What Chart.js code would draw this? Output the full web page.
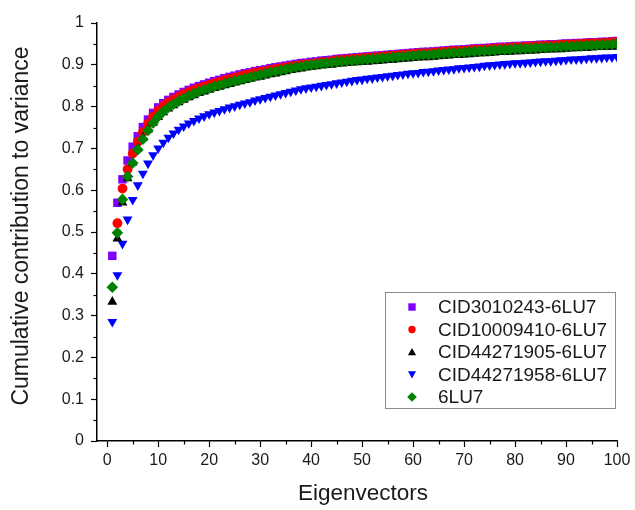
<!DOCTYPE html>
<html>
<head>
<meta charset="utf-8">
<script src="https://cdn.jsdelivr.net/npm/chart.js@4/dist/chart.umd.min.js"></script>
<style>
html,body{margin:0;padding:0;background:#ffffff;}
#wrap{width:635px;height:510px;}
</style>
</head>
<body>
<div id="wrap"><canvas id="c" width="635" height="510"></canvas></div>
<script>
// ---------- DATA ----------
const eigenvectors = [1,2,3,4,5,6,7,8,9,10,11,12,13,14,15,16,17,18,19,20,
  21,22,23,24,25,26,27,28,29,30,31,32,33,34,35,36,37,38,39,40,
  41,42,43,44,45,46,47,48,49,50,51,52,53,54,55,56,57,58,59,60,
  61,62,63,64,65,66,67,68,69,70,71,72,73,74,75,76,77,78,79,80,
  81,82,83,84,85,86,87,88,89,90,91,92,93,94,95,96,97,98,99,100];

const seriesNames = ['CID3010243-6LU7','CID10009410-6LU7','CID44271905-6LU7','CID44271958-6LU7','6LU7'];
const xTitle = 'Eigenvectors';
const yTitle = 'Cumulative contribution to variance';

const cid3010243 = [0.443,0.570,0.626,0.671,0.704,0.729,0.751,0.769,0.785,0.798,
  0.808,0.816,0.823,0.829,0.835,0.840,0.845,0.849,0.853,0.857,
  0.861,0.864,0.868,0.871,0.874,0.877,0.880,0.882,0.885,0.887,
  0.889,0.892,0.894,0.896,0.898,0.900,0.902,0.904,0.905,0.907,
  0.908,0.910,0.911,0.912,0.914,0.915,0.916,0.917,0.918,0.919,
  0.920,0.921,0.922,0.923,0.924,0.925,0.926,0.927,0.928,0.929,
  0.930,0.931,0.931,0.932,0.933,0.934,0.935,0.936,0.936,0.937,
  0.938,0.939,0.940,0.940,0.941,0.942,0.943,0.943,0.944,0.945,
  0.945,0.946,0.946,0.947,0.948,0.948,0.949,0.949,0.950,0.951,
  0.951,0.952,0.952,0.953,0.954,0.954,0.955,0.955,0.956,0.957];

// first point of this series is hidden in the picture
const cid10009410 = [null,0.521,0.604,0.650,0.688,0.716,0.739,0.759,0.776,0.790,
  0.801,0.810,0.817,0.823,0.830,0.835,0.840,0.844,0.848,0.852,
  0.856,0.859,0.863,0.866,0.869,0.872,0.876,0.878,0.881,0.883,
  0.885,0.888,0.890,0.892,0.894,0.896,0.898,0.900,0.901,0.903,
  0.904,0.906,0.907,0.909,0.911,0.912,0.913,0.914,0.915,0.916,
  0.917,0.918,0.919,0.920,0.921,0.922,0.923,0.924,0.925,0.926,
  0.927,0.928,0.928,0.929,0.930,0.931,0.932,0.933,0.933,0.934,
  0.935,0.936,0.937,0.937,0.938,0.939,0.940,0.940,0.941,0.942,
  0.942,0.943,0.944,0.944,0.945,0.946,0.946,0.947,0.948,0.948,
  0.949,0.949,0.950,0.951,0.951,0.952,0.952,0.953,0.954,0.954];

const cid44271905 = [0.333,0.484,0.570,0.628,0.666,0.700,0.725,0.745,0.761,0.775,
  0.786,0.795,0.803,0.810,0.816,0.822,0.827,0.832,0.836,0.840,
  0.844,0.847,0.851,0.854,0.857,0.860,0.863,0.866,0.869,0.871,
  0.874,0.877,0.879,0.882,0.884,0.887,0.889,0.891,0.893,0.895,
  0.896,0.898,0.899,0.900,0.902,0.903,0.904,0.905,0.906,0.907,
  0.907,0.908,0.909,0.910,0.911,0.912,0.913,0.914,0.915,0.916,
  0.917,0.918,0.918,0.919,0.920,0.921,0.922,0.923,0.923,0.924,
  0.925,0.926,0.927,0.927,0.928,0.929,0.930,0.930,0.931,0.932,
  0.932,0.933,0.934,0.934,0.935,0.936,0.936,0.937,0.937,0.938,
  0.939,0.939,0.940,0.940,0.941,0.942,0.942,0.943,0.943,0.944];

const cid44271958 = [0.285,0.397,0.472,0.530,0.577,0.612,0.640,0.664,0.684,0.700,
  0.714,0.726,0.736,0.745,0.753,0.760,0.766,0.772,0.777,0.782,
  0.786,0.790,0.794,0.798,0.801,0.805,0.808,0.811,0.815,0.818,
  0.821,0.824,0.827,0.830,0.833,0.836,0.839,0.842,0.844,0.846,
  0.848,0.850,0.852,0.854,0.856,0.858,0.860,0.862,0.864,0.865,
  0.867,0.868,0.870,0.871,0.873,0.874,0.876,0.877,0.879,0.880,
  0.881,0.883,0.884,0.885,0.887,0.888,0.889,0.890,0.892,0.893,
  0.894,0.895,0.896,0.898,0.899,0.900,0.901,0.902,0.903,0.904,
  0.904,0.905,0.906,0.907,0.908,0.909,0.909,0.910,0.911,0.912,
  0.913,0.913,0.914,0.915,0.916,0.916,0.917,0.918,0.918,0.919];

const lu7 = [0.368,0.498,0.578,0.633,0.665,0.697,0.722,0.743,0.761,0.776,
  0.788,0.798,0.806,0.813,0.820,0.826,0.831,0.836,0.840,0.844,
  0.848,0.851,0.855,0.858,0.861,0.864,0.867,0.870,0.873,0.876,
  0.879,0.882,0.884,0.887,0.889,0.892,0.894,0.896,0.898,0.900,
  0.901,0.903,0.904,0.905,0.907,0.908,0.909,0.910,0.911,0.912,
  0.913,0.914,0.915,0.916,0.917,0.918,0.919,0.920,0.921,0.922,
  0.923,0.924,0.924,0.925,0.926,0.927,0.928,0.929,0.929,0.930,
  0.931,0.932,0.933,0.933,0.934,0.935,0.936,0.936,0.937,0.938,
  0.938,0.939,0.939,0.940,0.941,0.941,0.942,0.942,0.943,0.944,
  0.944,0.945,0.945,0.946,0.947,0.947,0.948,0.948,0.949,0.950];

const xTickValues = [0,10,20,30,40,50,60,70,80,90,100];
const xTickLabels = ['0','10','20','30','40','50','60','70','80','90','100'];
const xMinorTicks = [5,15,25,35,45,55,65,75,85,95];
const yTickValues = [0,0.1,0.2,0.3,0.4,0.5,0.6,0.7,0.8,0.9,1];
const yTickLabels = ['0','0.1','0.2','0.3','0.4','0.5','0.6','0.7','0.8','0.9','1'];
const yMinorTicks = [0.05,0.15,0.25,0.35,0.45,0.55,0.65,0.75,0.85,0.95];

// ---------- STYLE ----------
const FONT = '"Liberation Sans", Arial, Helvetica, sans-serif';
const seriesValues = [cid3010243, cid10009410, cid44271905, cid44271958, lu7];
const seriesStyles = [
  {color:'#8000ff', shape:'rect',     radius:6.0, rotation:0,   order:3},
  {color:'#ff0000', shape:'circle',   radius:4.9, rotation:0,   order:2},
  {color:'#000000', shape:'triangle', radius:5.7, rotation:0,   order:1},
  {color:'#0000ff', shape:'triangle', radius:5.7, rotation:180, order:4},
  {color:'#008000', shape:'rectRot',  radius:5.8, rotation:0,   order:0}
];

const datasets = seriesValues.map((vals, s) => ({
  label: seriesNames[s],
  data: eigenvectors.map((x, i) => ({x: x, y: vals[i]})),
  pointStyle: seriesStyles[s].shape,
  pointRadius: seriesStyles[s].radius,
  pointRotation: seriesStyles[s].rotation,
  pointBackgroundColor: seriesStyles[s].color,
  pointBorderColor: seriesStyles[s].color,
  pointBorderWidth: 0,
  showLine: false,
  order: seriesStyles[s].order
}));

// minor ticks drawn through the scales
const minorTicks = {
  id: 'minorTicks',
  afterDraw(chart) {
    const {ctx, scales: {x, y}} = chart;
    ctx.save();
    ctx.strokeStyle = '#000';
    ctx.lineWidth = 1.2;
    xMinorTicks.forEach(v => {
      const px = Math.round(x.getPixelForValue(v)) + 0.5;
      ctx.beginPath(); ctx.moveTo(px, x.top); ctx.lineTo(px, x.top + 3.5); ctx.stroke();
    });
    yMinorTicks.forEach(v => {
      const py = Math.round(y.getPixelForValue(v)) + 0.5;
      ctx.beginPath(); ctx.moveTo(y.right, py); ctx.lineTo(y.right - 3.5, py); ctx.stroke();
    });
    ctx.restore();
  }
};

// axis titles (placed relative to the plot area)
const axisTitles = {
  id: 'axisTitles',
  afterDraw(chart) {
    const {ctx, chartArea: a} = chart;
    ctx.save();
    ctx.fillStyle = '#1a1a1a';
    ctx.textAlign = 'center';
    ctx.textBaseline = 'middle';
    ctx.font = '22.5px ' + FONT;
    ctx.fillText(xTitle, (a.left + a.right) / 2 + 6, a.bottom + 53);
    ctx.translate(a.left - 75, (a.top + a.bottom) / 2 - 6);
    ctx.rotate(-Math.PI / 2);
    ctx.font = '23px ' + FONT;
    ctx.fillText(yTitle, 0, 0);
    ctx.restore();
  }
};

function drawMarker(ctx, shape, rot, cx, cy, s) {
  ctx.beginPath();
  if (shape === 'rect') {
    ctx.rect(cx - s, cy - s, 2 * s, 2 * s);
  } else if (shape === 'circle') {
    ctx.arc(cx, cy, s, 0, Math.PI * 2);
  } else if (shape === 'triangle') {
    const d = rot === 180 ? -1 : 1;
    const h = s * 1.1;
    ctx.moveTo(cx, cy - d * h);
    ctx.lineTo(cx + s * 1.1, cy + d * h * 0.8);
    ctx.lineTo(cx - s * 1.1, cy + d * h * 0.8);
    ctx.closePath();
  } else if (shape === 'rectRot') {
    const r = s * 1.3;
    ctx.moveTo(cx, cy - r); ctx.lineTo(cx + r, cy); ctx.lineTo(cx, cy + r); ctx.lineTo(cx - r, cy);
    ctx.closePath();
  }
  ctx.fill();
}

// boxed legend inside the plot area
const boxLegend = {
  id: 'boxLegend',
  afterDraw(chart) {
    const {ctx, chartArea: a} = chart;
    const w = 230, h = 116;
    const left = a.right - 232, top = a.bottom - 149;
    ctx.save();
    ctx.fillStyle = '#ffffff';
    ctx.fillRect(left, top, w, h);
    ctx.strokeStyle = '#8c8c8c';
    ctx.lineWidth = 1;
    ctx.strokeRect(left + 0.5, top + 0.5, w, h);
    ctx.font = '19px ' + FONT;
    ctx.textBaseline = 'middle';
    ctx.textAlign = 'left';
    seriesNames.forEach((name, i) => {
      const cy = top + 15 + i * 22.5;
      const st = seriesStyles[i];
      ctx.fillStyle = st.color;
      drawMarker(ctx, st.shape, st.rotation, left + 27, cy, 3.7);
      ctx.fillStyle = '#1a1a1a';
      ctx.fillText(name, left + 53, cy + 1);
    });
    ctx.restore();
  }
};

new Chart(document.getElementById('c'), {
  type: 'scatter',
  data: { datasets: datasets },
  options: {
    responsive: false,
    animation: false,
    devicePixelRatio: 1,
    layout: { padding: { top: 23, right: 18, left: 0, bottom: 0 } },
    plugins: {
      legend: { display: false },
      tooltip: { enabled: false }
    },
    scales: {
      x: {
        type: 'linear',
        min: -2,
        max: 100,
        afterBuildTicks: ax => { ax.ticks = xTickValues.map(v => ({value: v})); },
        afterFit: ax => { ax.height = 69; },
        grid: { drawOnChartArea: false, drawTicks: true, tickLength: 6, tickColor: '#000', tickWidth: 1.2 },
        border: { display: true, color: '#000', width: 1.5 },
        ticks: {
          color: '#1a1a1a', padding: 4, maxRotation: 0, autoSkip: false,
          font: { family: FONT, size: 16 },
          callback: (v, i) => xTickLabels[i]
        },
        title: { display: false }
      },
      y: {
        type: 'linear',
        min: 0,
        max: 1,
        afterBuildTicks: ax => { ax.ticks = yTickValues.map(v => ({value: v})); },
        afterFit: ax => { ax.width = 97; },
        grid: { drawOnChartArea: false, drawTicks: true, tickLength: 6, tickColor: '#000', tickWidth: 1.2 },
        border: { display: true, color: '#000', width: 1.5 },
        ticks: {
          color: '#1a1a1a', padding: 7, autoSkip: false,
          font: { family: FONT, size: 16 },
          callback: (v, i) => yTickLabels[i]
        },
        title: { display: false }
      }
    }
  },
  plugins: [minorTicks, axisTitles, boxLegend]
});
</script>
</body>
</html>
